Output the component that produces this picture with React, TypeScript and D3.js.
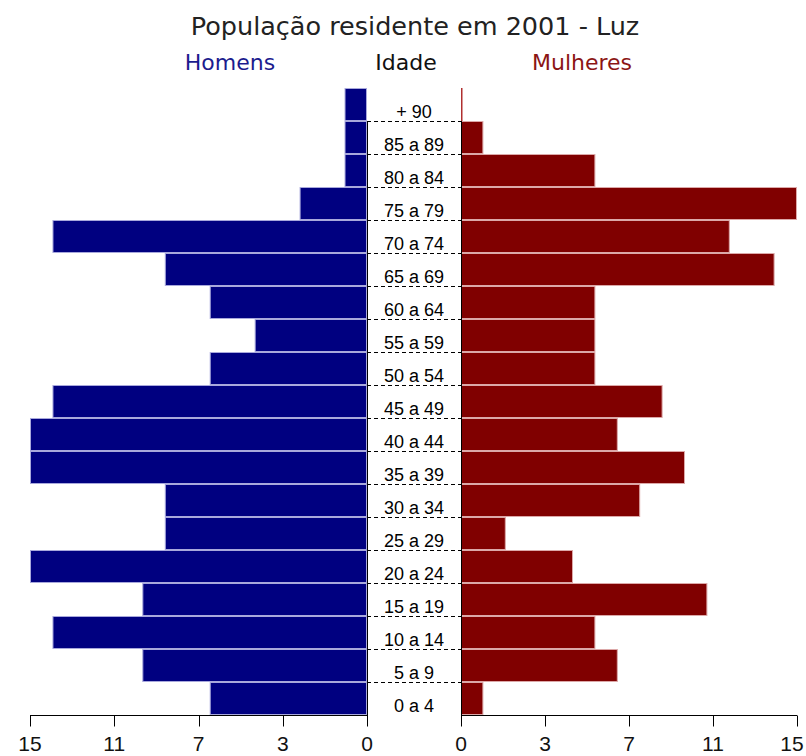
import { useEffect, useRef } from 'react';
import * as d3 from 'd3';

// age groups, top to bottom
const ages = [
  '+ 90', '85 a 89', '80 a 84', '75 a 79', '70 a 74', '65 a 69', '60 a 64',
  '55 a 59', '50 a 54', '45 a 49', '40 a 44', '35 a 39', '30 a 34', '25 a 29',
  '20 a 24', '15 a 19', '10 a 14', '5 a 9', '0 a 4',
];
const homens = [1, 1, 1, 3, 14, 9, 7, 5, 7, 14, 15, 15, 9, 9, 15, 10, 14, 10, 7];
const mulheres = [0, 1, 6, 15, 12, 14, 6, 6, 6, 9, 7, 10, 8, 2, 5, 11, 6, 7, 1];
const tickValues = [0, 3.75, 7.5, 11.25, 15];

const W = 806;
const H = 756;

export default function App() {
  const svgRef = useRef<SVGSVGElement>(null);

  useEffect(() => {
    if (!svgRef.current) return;
    const svg = d3.select(svgRef.current);
    svg.selectAll('*').remove();

    const top = 88;
    const bottom = 715;
    const leftZero = 367;
    const rightZero = 461;

    const xL = d3.scaleLinear().domain([0, 15]).range([leftZero, 30]);
    const xR = d3.scaleLinear().domain([0, 15]).range([rightZero, 797]);
    const y = d3.scaleBand<string>().domain(ages).range([top, bottom]).paddingInner(0);
    const bw = y.bandwidth();

    // title + legend
    svg.append('text')
      .attr('x', 415).attr('y', 35)
      .attr('text-anchor', 'middle')
      .style('font', '25.5px "DejaVu Sans", sans-serif')
      .attr('fill', '#222')
      .text('População residente em 2001 - Luz');

    const legend = [
      { t: 'Homens', x: 230, c: '#1c1c8e' },
      { t: 'Idade', x: 406, c: '#111' },
      { t: 'Mulheres', x: 582, c: '#8b1414' },
    ];
    svg.selectAll('text.leg')
      .data(legend)
      .join('text')
      .attr('class', 'leg')
      .attr('x', d => d.x).attr('y', 70)
      .attr('text-anchor', 'middle')
      .attr('fill', d => d.c)
      .style('font', '22px "DejaVu Sans", sans-serif')
      .text(d => d.t);

    // bars
    svg.append('g')
      .selectAll('rect')
      .data(ages)
      .join('rect')
      .attr('x', (d, i) => xL(homens[i]) + 0.5)
      .attr('y', d => (y(d) ?? 0) + 0.5)
      .attr('width', (d, i) => Math.max(1, xL(0) - xL(homens[i]) - 1))
      .attr('height', bw - 1)
      .attr('fill', '#000080')
      .attr('stroke', '#a8a8dc')
      .attr('stroke-width', 1);

    svg.append('g')
      .selectAll('rect')
      .data(ages)
      .join('rect')
      .attr('x', xR(0) + 0.5)
      .attr('y', d => (y(d) ?? 0) + 0.5)
      .attr('width', (d, i) => Math.max(0.5, xR(mulheres[i]) - xR(0) - 1))
      .attr('height', bw - 1)
      .attr('fill', '#800000')
      .attr('stroke', (d, i) => (mulheres[i] === 0 ? '#b03030' : '#dca8a8'))
      .attr('stroke-width', 1);

    // dashed separators between age labels
    svg.append('g')
      .selectAll('line')
      .data(ages.slice(0, -1))
      .join('line')
      .attr('x1', leftZero).attr('x2', rightZero)
      .attr('y1', d => (y(d) ?? 0) + bw + 0.5)
      .attr('y2', d => (y(d) ?? 0) + bw + 0.5)
      .attr('stroke', '#000')
      .attr('stroke-dasharray', '4,3');

    // age labels
    svg.append('g')
      .selectAll('text')
      .data(ages)
      .join('text')
      .attr('x', (leftZero + rightZero) / 2)
      .attr('y', d => (y(d) ?? 0) + bw - 3)
      .attr('text-anchor', 'middle')
      .attr('fill', '#000')
      .style('font', '18px "Liberation Sans", Arial, sans-serif')
      .text(d => d);

    // vertical axis lines
    const yStart = (y(ages[0]) ?? 0) + bw;
    [leftZero, rightZero].forEach(x => {
      svg.append('line')
        .attr('x1', x + 0.5).attr('x2', x + 0.5)
        .attr('y1', yStart).attr('y2', bottom + 1)
        .attr('stroke', '#000');
    });

    // bottom axes
    const drawAxis = (scale: d3.ScaleLinear<number, number>) => {
      const g = svg.append('g').attr('transform', `translate(0,${bottom + 0.5})`);
      g.append('line')
        .attr('x1', scale(0)).attr('x2', scale(15))
        .attr('stroke', '#000');
      g.selectAll('line.tick')
        .data(tickValues)
        .join('line')
        .attr('class', 'tick')
        .attr('x1', d => Math.round(scale(d)) + 0.5)
        .attr('x2', d => Math.round(scale(d)) + 0.5)
        .attr('y1', 0).attr('y2', 11)
        .attr('stroke', '#000');
      g.selectAll('text')
        .data(tickValues)
        .join('text')
        .attr('x', d => Math.min(scale(d), 792))
        .attr('y', 35.5)
        .attr('text-anchor', 'middle')
        .attr('fill', '#111')
        .style('font', '21px "Liberation Sans", Arial, sans-serif')
        .text(d => String(Math.floor(d)));
    };
    drawAxis(xL);
    drawAxis(xR);
  }, []);

  return (
    <div>
      <svg
        ref={svgRef}
        width={W}
        height={H}
        style={{ display: 'block', position: 'absolute', left: 0, top: 0 }}
      />
    </div>
  );
}
